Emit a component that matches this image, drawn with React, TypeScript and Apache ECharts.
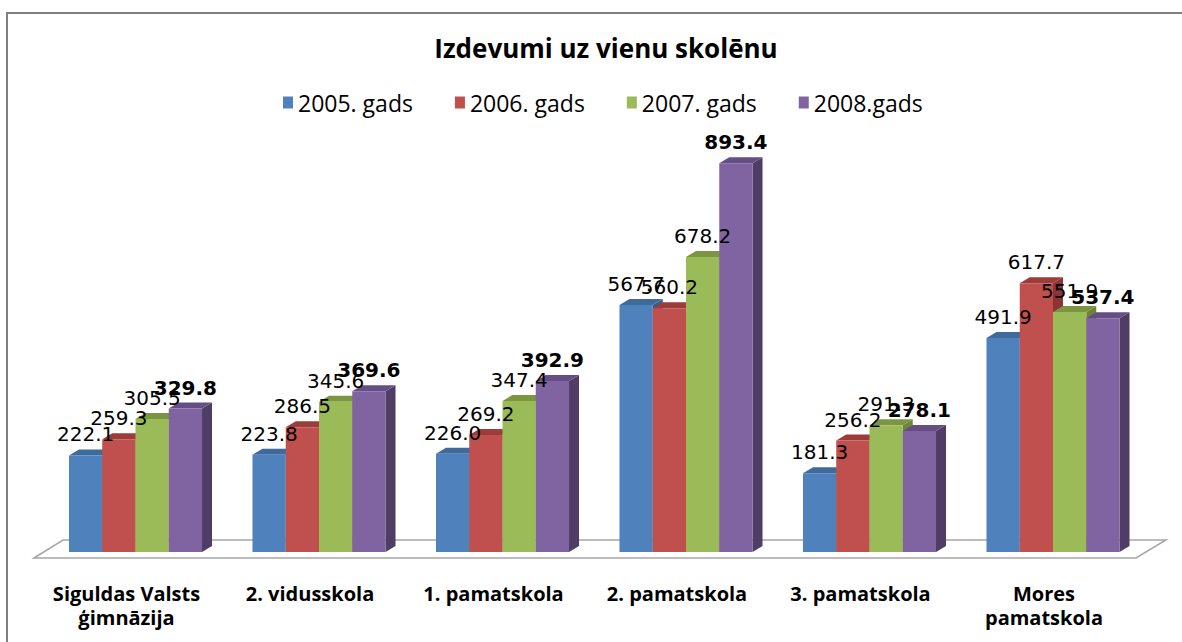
import React, { useEffect, useRef } from "react";
import * as echarts from "echarts";

const categories = [
  "Siguldas Valsts\nģimnāzija",
  "2. vidusskola",
  "1. pamatskola",
  "2. pamatskola",
  "3. pamatskola",
  "Mores\npamatskola",
];
const seriesNames = ["2005. gads", "2006. gads", "2007. gads", "2008.gads"];
const s2005 = [222.1, 223.8, 226.0, 567.7, 181.3, 491.9];
const s2006 = [259.3, 286.5, 269.2, 560.2, 256.2, 617.7];
const s2007 = [305.5, 345.6, 347.4, 678.2, 291.3, 551.9];
const s2008 = [329.8, 369.6, 392.9, 893.4, 278.1, 537.4];
const allSeries = [s2005, s2006, s2007, s2008];

const FRONT = ["#4F81BD", "#C0504D", "#9BBB59", "#8064A2"];
const TOP = ["#3F6A9C", "#9C3D3A", "#7A9640", "#644E84"];
const SIDE = ["#385D8A", "#8A3533", "#6C8538", "#4F3D66"];
const DX = 10;
const DY = 6;

function makeRender(sIdx: number) {
  return (params: any, api: any) => {
    const idx = api.value(0);
    const v = api.value(1);
    const base = api.coord([idx, 0]);
    const top = api.coord([idx, v]);
    const band = api.size([1, 0])[0];
    const groupW = band * 0.725;
    const bw = groupW / 4;
    const x0 = base[0] - groupW / 2 + sIdx * bw;
    const yT = top[1];
    const yB = base[1];
    const bold = sIdx === 3;
    return {
      type: "group",
      children: [
        {
          type: "polygon",
          shape: {
            points: [
              [x0 + bw, yT],
              [x0 + bw + DX, yT - DY],
              [x0 + bw + DX, yB - DY],
              [x0 + bw, yB],
            ],
          },
          style: { fill: SIDE[sIdx] },
        },
        {
          type: "polygon",
          shape: {
            points: [
              [x0, yT],
              [x0 + bw, yT],
              [x0 + bw + DX, yT - DY],
              [x0 + DX, yT - DY],
            ],
          },
          style: { fill: TOP[sIdx] },
        },
        {
          type: "rect",
          shape: { x: x0, y: yT, width: bw, height: yB - yT },
          style: { fill: FRONT[sIdx] },
        },
        {
          type: "text",
          x: x0 + bw / 2,
          y: yT - DY - 15,
          z2: 100,
          style: {
            text: v.toFixed(1),
            fill: "#000",
            fontFamily: "DejaVu Sans",
            fontSize: 20,
            fontWeight: bold ? "bold" : "normal",
            align: "center",
            verticalAlign: "middle",
          },
        },
      ],
    };
  };
}

export default function App() {
  const ref = useRef<HTMLDivElement>(null);
  useEffect(() => {
    document.body.style.margin = "0";
    const chart = echarts.init(ref.current!, null, { renderer: "svg" });
    chart.setOption({
      animation: false,
      backgroundColor: "#fff",
      title: {
        text: "Izdevumi uz vienu skolēnu",
        left: 601,
        top: 30,
        textAlign: "center",
        textStyle: {
          fontFamily: "Open Sans",
          fontWeight: "bold",
          fontSize: 26,
          color: "#000",
        },
      },
      legend: {
        left: 278,
        top: 86,
        icon: "rect",
        itemWidth: 10,
        itemHeight: 12,
        itemGap: 42,
        textStyle: { fontFamily: "Open Sans", fontSize: 23, color: "#000" },
        data: seriesNames,
      },
      grid: {
        left: 43.75,
        right: 37.25,
        top: 117,
        bottom: 90,
        containLabel: false,
        outerBoundsMode: "none",
      },
      xAxis: {
        type: "category",
        data: categories,
        axisLine: { show: false },
        axisTick: { show: false },
        splitLine: { show: false },
        axisLabel: {
          interval: 0,
          margin: 29,
          padding: [0, 18, 0, 0],
          fontFamily: "Open Sans",
          fontWeight: "bold",
          fontSize: 20,
          lineHeight: 24,
          color: "#000",
        },
      },
      yAxis: { type: "value", min: 0, max: 1000, show: false },
      graphic: {
        elements: [
          {
            type: "polyline",
            z: 0,
            shape: { points: [[7, 642], [7, 13], [1182, 13]] },
            style: { stroke: "#7F7F7F", lineWidth: 2, fill: null },
          },
          {
            type: "polygon",
            z: 0,
            shape: { points: [[34, 558], [63, 540], [1166, 540], [1136, 558]] },
            style: { stroke: "#A6A6A6", lineWidth: 1.5, fill: "#FFFFFF" },
          },
        ],
      },
      series: allSeries.map((vals, sIdx) => ({
        type: "custom",
        name: seriesNames[sIdx],
        itemStyle: { color: FRONT[sIdx] },
        encode: { x: 0, y: 1 },
        data: vals.map((v, i) => [i, v]),
        renderItem: makeRender(sIdx),
      })),
    });
    return () => chart.dispose();
  }, []);
  return <div ref={ref} style={{ width: 1182, height: 642 }} />;
}
